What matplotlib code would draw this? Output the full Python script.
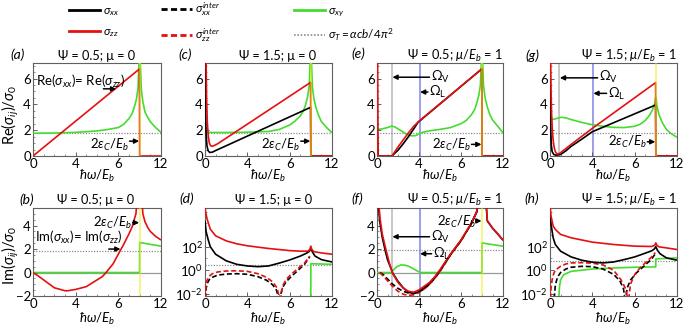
import numpy as np
import matplotlib
matplotlib.use("Agg")
import matplotlib.pyplot as plt
from matplotlib.lines import Line2D

plt.rcParams['font.family'] = ['Lato', 'DejaVu Sans']
plt.rcParams['mathtext.fontset'] = 'custom'
plt.rcParams['mathtext.rm'] = 'Lato'
plt.rcParams['mathtext.it'] = 'Lato:italic'
plt.rcParams['mathtext.bf'] = 'Lato:bold'
plt.rcParams['mathtext.fallback'] = 'stixsans'

# ---------------- data ----------------
X_TICKS = [0, 4, 8, 12]
X_TICKLABELS = ['0', '4', '6', '12']
EPS_C2 = 10.0          # 2 eps_C / E_b
OMEGA_V_05 = 1.42      # Omega_V, Psi = 0.5
OMEGA_V_15 = 0.88      # Omega_V, Psi = 1.5
OMEGA_L = 4.05
SIGMA_T_ROW1 = 1.75
SIGMA_T_B = 1.8
SIGMA_T_F = 1.9
SIGMA_T_D_LOG10 = 0.42
SIGMA_T_H_LOG10 = 0.75

# (a) Re, Psi=0.5, mu=0
A_RED_X = [0, 9.98, 10.0, 12]
A_RED_Y = [0, 6.74, 0, 0]
A_GREEN_X = [0, 2, 4, 6, 7, 8, 8.5, 9, 9.3, 9.5, 9.7, 9.85, 9.95, 10.05, 10.15, 10.3, 10.5, 10.75, 11, 11.5, 12]
A_GREEN_Y = [1.76, 1.78, 1.83, 1.94, 2.05, 2.2, 2.45, 2.9, 3.3, 3.8, 4.4, 5.3, 7.5, 7.5, 5.2, 4.2, 3.4, 3.0, 2.65, 2.2, 1.83]

# (c) Re, Psi=1.5, mu=0
C_RED_X = [0.1, 0.15, 0.22, 0.3, 0.4, 0.5, 0.65, 0.85, 1.2, 9.98, 10.0, 12]
C_RED_Y = [7.5, 4.5, 2.6, 1.6, 1.05, 0.82, 0.75, 0.8, 0.95, 5.7, 0, 0]
C_BLACK_X = [0.02, 0.05, 0.1, 0.18, 0.3, 0.45, 0.7, 1.0, 9.98, 10.0, 12]
C_BLACK_Y = [7.5, 4.0, 1.8, 0.8, 0.4, 0.27, 0.3, 0.42, 3.77, 0, 0]
C_GREEN_X = [0, 2, 4, 6, 7, 8, 8.5, 9, 9.3, 9.5, 9.7, 9.85, 9.95, 10.05, 10.15, 10.3, 10.5, 10.75, 11, 11.5, 12]
C_GREEN_Y = [1.82, 1.82, 1.84, 1.9, 2.05, 2.4, 2.7, 3.1, 3.5, 3.95, 4.6, 5.5, 7.5, 7.5, 5.3, 4.4, 3.7, 3.1, 2.66, 2.2, 1.8]

# (e) Re, Psi=0.5, mu/Eb=1
E_RED_X = [0.05, 0.08, 1.42, 2.0, 2.5, 3.0, 3.5, 4.0, 9.98, 10.0, 12]
E_RED_Y = [7.5, 0, 0, 0.7, 1.25, 1.8, 2.3, 2.7, 6.74, 0, 0]
E_BLACK_X = [0.02, 0.05, 0.1, 1.42, 2.0, 2.5, 3.0, 3.5, 3.9, 9.98, 10.0, 12]
E_BLACK_Y = [7.5, 2.0, 0, 0, 0.45, 0.95, 1.5, 2.1, 2.6, 6.74, 0, 0]
E_GREEN_X = [0, 0.5, 1.0, 1.4, 1.7, 2.2, 2.8, 3.3, 3.7, 4.2, 5, 6, 7, 8, 8.5, 9, 9.3, 9.5, 9.7, 9.85, 9.95, 10.05, 10.15, 10.3, 10.5, 10.75, 11, 11.5, 12]
E_GREEN_Y = [2.05, 2.1, 2.2, 2.32, 2.25, 2.0, 1.7, 1.56, 1.58, 1.8, 1.95, 2.06, 2.2, 2.5, 2.75, 3.2, 3.6, 4.1, 4.7, 5.5, 7.5, 7.5, 5.4, 4.5, 3.8, 3.2, 2.8, 2.3, 1.8]

# (g) Re, Psi=1.5, mu/Eb=1
G_RED_X = [0.05, 0.1, 0.15, 0.22, 0.3, 0.4, 0.5, 0.62, 0.75, 0.9, 1.1, 1.5, 2, 4, 9.98, 10.0, 12]
G_RED_Y = [7.5, 5.0, 3.3, 2.0, 1.2, 0.65, 0.35, 0.2, 0.16, 0.2, 0.32, 0.58, 0.9, 2.14, 5.68, 0, 0]
G_BLACK_X = [0.02, 0.05, 0.08, 0.12, 0.2, 0.35, 0.6, 1.0, 1.5, 2, 3, 4, 9.98, 10.0, 12]
G_BLACK_Y = [7.5, 3.5, 1.8, 0.9, 0.35, 0.12, 0.06, 0.12, 0.4, 0.75, 1.3, 1.88, 3.95, 0, 0]
G_GREEN_X = [0, 0.4, 0.8, 1.1, 1.5, 2, 3, 4, 5, 6, 7, 8, 8.5, 9, 9.4, 9.7, 9.9, 9.97, 10.03, 10.1, 10.3, 10.6, 11, 11.5, 12]
G_GREEN_Y = [2.8, 2.85, 2.95, 3.0, 2.95, 2.82, 2.6, 2.42, 2.3, 2.22, 2.2, 2.3, 2.45, 2.75, 3.15, 3.6, 4.1, 4.5, 4.5, 3.9, 3.2, 2.6, 2.05, 1.7, 1.45]

# (b) Im, Psi=0.5, mu=0
B_RED_X = [0, 0.5, 1, 2, 3, 3.2, 4, 5, 6, 6.5, 6.85, 7.5, 8, 8.5, 9, 9.3, 9.5, 9.65, 9.9, 10.1, 10.3, 10.5, 10.75, 11, 11.5, 12]
B_RED_Y = [0, -0.3, -0.63, -1.3, -1.55, -1.56, -1.44, -1.2, -0.63, -0.35, 0, 0.73, 1.57, 2.4, 3.3, 3.9, 4.55, 5.0, 8.0, 8.0, 5.0, 4.33, 3.85, 3.5, 3.08, 2.77]
B_GREEN_X = [0, 9.99, 10.0, 10.5, 11, 12]
B_GREEN_Y = [0, 0, 2.56, 2.48, 2.4, 2.25]

# (f) Im, Psi=0.5, mu/Eb=1
F_RED_X = [0.15, 0.2, 0.3, 0.5, 0.8, 1.2, 1.5, 2, 2.5, 3, 3.5, 4, 5, 5.5, 6, 7, 8, 9, 9.5, 9.7, 10.25, 10.5, 11, 11.5, 12]
F_RED_Y = [8, 5.6, 4.54, 3.3, 2.14, 0.73, -0.1, -0.85, -1.33, -1.6, -1.67, -1.48, -0.85, -0.37, 0.23, 1.57, 2.77, 4.23, 5.17, 8, 8, 4.44, 3.8, 3.3, 2.77]
F_BLACK_X = [0.1, 0.15, 0.25, 0.5, 0.8, 1.0, 1.5, 2, 2.5, 3, 3.5, 4, 4.5, 5, 5.5, 6, 7, 8, 9, 9.5, 9.7, 10.25, 10.5, 11, 11.5, 12]
F_BLACK_Y = [8, 5.6, 4.4, 3.0, 1.8, 1.1, -0.05, -0.75, -1.3, -1.68, -1.8, -1.62, -1.3, -0.9, -0.4, 0.2, 1.55, 2.75, 4.2, 5.15, 8, 8, 4.4, 3.78, 3.28, 2.75]
F_RED_DASH_X = [0.25, 0.6, 1.0, 1.5, 2.0, 2.5, 3.0, 3.5, 4.0, 4.5, 5.0, 5.5, 6.0, 7.0, 8.0, 9.0, 9.5, 9.65]
F_RED_DASH_Y = [0.0, -0.3, -0.7, -1.2, -1.6, -1.85, -1.95, -1.9, -1.7, -1.4, -1.0, -0.5, 0.1, 1.5, 2.7, 4.2, 5.2, 6.0]
F_BLACK_DASH_X = [0.3, 0.7, 1.0, 1.5, 2.0, 2.5, 3.0, 3.5, 4.0, 4.5, 5.0, 5.5, 6.0, 7.0, 8.0, 9.0, 9.5, 9.65]
F_BLACK_DASH_Y = [0.0, -0.25, -0.55, -1.0, -1.35, -1.6, -1.75, -1.78, -1.65, -1.4, -1.0, -0.5, 0.1, 1.5, 2.7, 4.2, 5.2, 6.0]
F_GREEN_X = [0, 1.35, 1.6, 1.9, 2.3, 2.7, 3.1, 3.5, 3.9, 4.15, 9.99, 10.0, 10.5, 11, 12]
F_GREEN_Y = [0, 0, 0.25, 0.5, 0.65, 0.62, 0.5, 0.3, 0.1, 0, 0, 2.52, 2.45, 2.38, 2.25]

# (d) Im, Psi=1.5, mu=0  (log10 of |value|)
D_RED_X = [0.0, 0.05, 0.2, 0.5, 1, 2, 3, 4, 6, 8, 9, 9.7, 9.9, 10.0, 10.1, 10.3, 11, 12]
D_RED_LOG10 = [5.6, 5.0, 4.36, 3.5, 2.93, 2.5, 2.25, 2.08, 1.85, 1.67, 1.62, 1.62, 1.75, 2.05, 1.75, 1.58, 1.47, 1.36]
D_BLACK_X = [0.0, 0.1, 0.3, 0.5, 1, 2, 3, 4, 5, 6, 7, 8, 9, 9.6, 9.85, 10.0, 10.15, 10.4, 11, 12]
D_BLACK_LOG10 = [4.2, 3.3, 2.6, 2.0, 1.36, 0.8, 0.5, 0.36, 0.3, 0.36, 0.6, 0.87, 1.2, 1.45, 1.6, 1.85, 1.55, 1.2, 0.9, 0.7]
D_RED_DASH_X = [0.03, 0.1, 0.2, 0.4, 0.7, 1.2, 2, 3, 4, 5, 5.8, 6.4, 6.8, 7.05, 7.15, 7.35, 7.7, 8.2, 8.8, 9.4, 9.9]
D_RED_DASH_LOG10 = [-2.4, -1.3, -0.85, -0.5, -0.3, -0.15, -0.07, -0.05, -0.1, -0.3, -0.6, -1.0, -1.5, -2.4, -2.4, -1.3, -0.75, -0.3, 0.15, 0.6, 1.2]
D_BLACK_DASH_X = [0.03, 0.1, 0.2, 0.4, 0.7, 1.2, 2, 3, 4, 5, 5.8, 6.4, 6.75, 6.98, 7.08, 7.3, 7.7, 8.2, 8.8, 9.4, 9.9]
D_BLACK_DASH_LOG10 = [-2.4, -1.6, -1.15, -0.8, -0.6, -0.42, -0.33, -0.3, -0.35, -0.55, -0.85, -1.25, -1.7, -2.4, -2.4, -1.5, -0.95, -0.5, 0.0, 0.5, 1.15]
D_GREEN_X = [0, 9.99, 10.0, 12]
D_GREEN_LOG10 = [-9, -9, 0.55, 0.5]   # -9 stands for zero (below the axis)

# (h) Im, Psi=1.5, mu/Eb=1  (log10 of |value|)
H_RED_X = [0.0, 0.1, 0.3, 0.5, 1, 2, 4, 6, 8, 9.6, 9.9, 10.0, 10.1, 10.3, 11, 12]
H_RED_LOG10 = [5.6, 4.6, 3.76, 3.48, 3.05, 2.76, 2.39, 2.19, 2.05, 2.02, 2.12, 2.33, 2.12, 1.99, 1.9, 1.76]
H_BLACK_X = [0.0, 0.1, 0.3, 0.5, 1, 2, 3, 4, 5, 6, 7, 8, 9, 9.6, 9.85, 10.0, 10.15, 10.4, 11, 12]
H_BLACK_LOG10 = [4.9, 3.9, 2.76, 2.19, 1.62, 1.13, 0.85, 0.68, 0.62, 0.7, 0.9, 1.13, 1.45, 1.65, 1.8, 2.0, 1.7, 1.4, 1.05, 0.85]
H_RED_DASH_X = [0.05, 0.1, 0.2, 0.35, 0.5, 1, 1.5, 2, 3, 4, 5, 6, 6.7, 7.1, 7.35, 7.45, 7.6, 8, 8.5, 9, 9.6, 9.95]
H_RED_DASH_LOG10 = [-2.4, -1.5, -0.82, -0.3, 0.0, 0.33, 0.53, 0.62, 0.64, 0.6, 0.45, 0.0, -0.8, -1.5, -2.4, -2.4, -1.2, -0.38, 0.19, 0.62, 1.13, 1.5]
H_BLACK_DASH_X = [0.4, 0.5, 0.7, 1, 1.5, 2, 3, 4, 5, 6, 6.6, 6.95, 7.05, 7.15, 7.3, 7.6, 8.2, 9, 9.6, 9.95]
H_BLACK_DASH_LOG10 = [-2.4, -1.3, -0.6, -0.2, 0.1, 0.25, 0.33, 0.3, 0.1, -0.35, -0.9, -1.6, -2.4, -2.4, -1.5, -0.85, -0.2, 0.45, 0.95, 1.4]
H_GREEN_X = [0.82, 0.9, 1.0, 1.3, 2, 3, 4, 6, 8, 9.99, 10.0, 12]
H_GREEN_LOG10 = [-2.5, -1.4, -0.82, -0.38, -0.1, 0.0, 0.1, 0.19, 0.25, 0.28, 0.96, 1.05]

# ---------------- style ----------------
RED = '#e51010'
BLACK = '#000000'
GREEN = '#45dc30'
YELLOW = '#ecec10'
GRAYV = '#bdbdbd'
BLUEV = '#8c8ce6'
DOTC = '#8c8c8c'
SPINE = '#606060'
LW = 1.2
DASH = (3, 1.6)

W, H = 685, 329
fig = plt.figure(figsize=(W / 100, H / 100), dpi=100)


def ax_at(l, t, r, b):
    return fig.add_axes([l / W, 1 - b / H, (r - l) / W, (b - t) / H])


def ftext(x, y, s, **kw):
    kw.setdefault('va', 'center')
    kw.setdefault('ha', 'center')
    return fig.text(x / W, 1 - y / H, s, **kw)


def style(ax, kind):
    for sp in ax.spines.values():
        sp.set_color(SPINE)
        sp.set_linewidth(0.8)
    ax.set_xlim(0, 12)
    ax.set_xticks(X_TICKS, X_TICKLABELS)
    ax.set_xticks(np.arange(0, 12.1, 1), minor=True)
    ax.tick_params(which='both', direction='in', colors=SPINE, labelcolor='black',
                   labelsize=9.5, pad=1.5, top=False, right=False)
    ax.tick_params(which='major', length=3, width=0.7)
    ax.tick_params(which='minor', length=1.5, width=0.5)
    if kind == 're':
        ax.set_ylim(0, 7.2)
        ax.set_yticks([0, 2, 4, 6])
        ax.set_yticks(np.arange(0, 7.2, 0.5), minor=True)
    elif kind == 'im':
        ax.set_ylim(-2, 5.5)
        ax.set_yticks([-2, 0, 2, 4])
        ax.set_yticks(np.arange(-2, 5.5, 0.5), minor=True)
    else:
        ax.set_yscale('log')
        ax.set_ylim(10 ** -2.2, 10 ** 5.3)
        ax.set_yticks([1e-2, 1e0, 1e2], [r'$10^{-2}$', r'$10^{0}$', r'$10^{2}$'])
        ax.set_yticks([1e-1, 1e1, 1e3, 1e4, 1e5], minor=True)
        ax.yaxis.set_minor_formatter(plt.NullFormatter())


def line(ax, x, y, color, ls='-', z=3, log=False):
    y = np.asarray(y, float)
    if log:
        y = 10.0 ** y
    kw = dict(color=color, lw=LW, zorder=z, solid_capstyle='butt')
    if ls == '--':
        kw['dashes'] = DASH
    ax.plot(x, y, **kw)


def arrow(ax, tail, tip):
    ax.annotate('', xy=tip, xytext=tail,
                arrowprops=dict(arrowstyle='-|>', color='black', lw=1.1,
                                mutation_scale=7, shrinkA=0, shrinkB=0), zorder=8)


def eps_label(ax, xt, yt, ya, fs=9.5):
    ax.text(xt, yt, r'$2\epsilon_C/E_b$', ha='right', va='center', fontsize=fs, zorder=8)
    arrow(ax, (xt + 0.05, ya), (EPS_C2 - 0.05, ya))


def eps_line(ax):
    ax.axvline(EPS_C2, color=YELLOW, lw=1.3, alpha=0.55, zorder=6)


def sigma_t(ax, val):
    ax.axhline(val, color=DOTC, lw=0.9, ls=(0, (1, 1.2)), zorder=1)


# axes boxes (pixels)
R1T, R1B = 63, 156
R2T, R2B = 208, 296
COLS = [(33, 161), (205, 332), (377, 503), (550, 677)]

axA = ax_at(COLS[0][0], R1T, COLS[0][1], R1B)
axC = ax_at(COLS[1][0], R1T, COLS[1][1], R1B)
axE = ax_at(COLS[2][0], R1T, COLS[2][1], R1B)
axG = ax_at(COLS[3][0], R1T, COLS[3][1], R1B)
axB = ax_at(COLS[0][0], R2T, COLS[0][1], R2B)
axD = ax_at(COLS[1][0], R2T, COLS[1][1], R2B)
axF = ax_at(COLS[2][0], R2T, COLS[2][1], R2B)
axH = ax_at(COLS[3][0], R2T, COLS[3][1], R2B)

for ax in (axA, axC, axE, axG):
    style(ax, 're')
for ax in (axB, axF):
    style(ax, 'im')
for ax in (axD, axH):
    style(ax, 'log')

OFS = 9.5   # Omega label size

# ---- (a)
sigma_t(axA, SIGMA_T_ROW1)
line(axA, A_GREEN_X, A_GREEN_Y, GREEN)
line(axA, A_RED_X, A_RED_Y, RED, z=4)
eps_line(axA)
axA.text(0.25, 5.8, r'Re($\sigma_{xx}$)= Re($\sigma_{zz}$)', fontsize=9.5, va='center', zorder=8)
arrow(axA, (6.6, 5.2), (7.8, 5.2))
eps_label(axA, 9.0, 0.85, 1.15)

# ---- (c)
sigma_t(axC, SIGMA_T_ROW1)
line(axC, C_GREEN_X, C_GREEN_Y, GREEN)
line(axC, C_BLACK_X, C_BLACK_Y, BLACK, z=4)
line(axC, C_RED_X, C_RED_Y, RED, z=5)
eps_line(axC)
eps_label(axC, 9.0, 0.85, 1.15)

# ---- (e)
axE.axvline(OMEGA_V_05, color=GRAYV, lw=1.2, zorder=1)
axE.axvline(OMEGA_L, color=BLUEV, lw=1.2, zorder=1)
sigma_t(axE, SIGMA_T_ROW1)
line(axE, E_GREEN_X, E_GREEN_Y, GREEN)
line(axE, E_BLACK_X, E_BLACK_Y, BLACK, z=4)
line(axE, E_RED_X, E_RED_Y, RED, z=5)
eps_line(axE)
axE.text(5.1, 6.15, r'$\Omega_{\rm V}$', fontsize=OFS, va='center', ha='left', zorder=8)
arrow(axE, (5.0, 6.1), (OMEGA_V_05 + 0.05, 6.1))
axE.text(4.95, 4.95, r'$\Omega_{\rm L}$', fontsize=OFS, va='center', ha='left', zorder=8)
arrow(axE, (4.85, 4.95), (OMEGA_L + 0.05, 4.95))
eps_label(axE, 8.95, 0.85, 0.9)

# ---- (g)
axG.axvline(OMEGA_V_15, color=GRAYV, lw=1.2, zorder=1)
axG.axvline(OMEGA_L, color=BLUEV, lw=1.2, zorder=1)
sigma_t(axG, SIGMA_T_ROW1)
line(axG, G_GREEN_X, G_GREEN_Y, GREEN)
line(axG, G_BLACK_X, G_BLACK_Y, BLACK, z=4)
line(axG, G_RED_X, G_RED_Y, RED, z=5)
eps_line(axG)
axG.text(4.6, 6.1, r'$\Omega_{\rm V}$', fontsize=OFS, va='center', ha='left', zorder=8)
arrow(axG, (4.5, 6.05), (OMEGA_V_15 + 0.05, 6.05))
axG.text(5.5, 4.8, r'$\Omega_{\rm L}$', fontsize=OFS, va='center', ha='left', zorder=8)
arrow(axG, (5.35, 4.85), (OMEGA_L + 0.05, 4.85))
eps_label(axG, 9.15, 1.05, 1.1)

# ---- (b)
axB.axhline(0, color='#9a9a9a', lw=0.9, zorder=1)
sigma_t(axB, SIGMA_T_B)
line(axB, B_GREEN_X, B_GREEN_Y, GREEN, z=3)
line(axB, B_RED_X, B_RED_Y, RED, z=4)
eps_line(axB)
axB.text(0.2, 2.95, r'Im($\sigma_{xx}$)= Im($\sigma_{zz}$)', fontsize=9.5, va='center', zorder=8)
arrow(axB, (7.1, 2.0), (8.2, 2.0))
eps_label(axB, 9.3, 4.2, 4.25)

# ---- (d)
sigma_t(axD, 10 ** SIGMA_T_D_LOG10)
line(axD, D_GREEN_X, D_GREEN_LOG10, GREEN, log=True, z=3)
line(axD, D_BLACK_DASH_X, D_BLACK_DASH_LOG10, BLACK, ls='--', log=True, z=4)
line(axD, D_RED_DASH_X, D_RED_DASH_LOG10, RED, ls='--', log=True, z=4)
line(axD, D_BLACK_X, D_BLACK_LOG10, BLACK, log=True, z=5)
line(axD, D_RED_X, D_RED_LOG10, RED, log=True, z=5)

# ---- (f)
axF.axvline(OMEGA_V_05, color=GRAYV, lw=1.2, zorder=1)
axF.axvline(OMEGA_L, color=BLUEV, lw=1.2, zorder=1)
axF.axhline(0, color='#9a9a9a', lw=0.9, zorder=1)
sigma_t(axF, SIGMA_T_F)
line(axF, F_GREEN_X, F_GREEN_Y, GREEN, z=3)
line(axF, F_BLACK_DASH_X, F_BLACK_DASH_Y, BLACK, ls='--', z=4)
line(axF, F_RED_DASH_X, F_RED_DASH_Y, RED, ls='--', z=4)
line(axF, F_BLACK_X, F_BLACK_Y, BLACK, z=5)
line(axF, F_RED_X, F_RED_Y, RED, z=5)
eps_line(axF)
axF.text(5.1, 3.0, r'$\Omega_{\rm V}$', fontsize=OFS, va='center', ha='left', zorder=8)
arrow(axF, (5.0, 3.05), (OMEGA_V_05 + 0.05, 3.05))
axF.text(5.3, 1.6, r'$\Omega_{\rm L}$', fontsize=OFS, va='center', ha='left', zorder=8)
arrow(axF, (5.2, 1.6), (OMEGA_L + 0.05, 1.6))
eps_label(axF, 9.45, 4.35, 4.4)

# ---- (h)
sigma_t(axH, 10 ** SIGMA_T_H_LOG10)
line(axH, H_GREEN_X, H_GREEN_LOG10, GREEN, log=True, z=3)
line(axH, H_BLACK_DASH_X, H_BLACK_DASH_LOG10, BLACK, ls='--', log=True, z=4)
line(axH, H_RED_DASH_X, H_RED_DASH_LOG10, RED, ls='--', log=True, z=4)
line(axH, H_BLACK_X, H_BLACK_LOG10, BLACK, log=True, z=5)
line(axH, H_RED_X, H_RED_LOG10, RED, log=True, z=5)

# ---------------- titles / labels ----------------
TFS = 9.2
ftext(97, 56, 'Ψ = 0.5; μ = 0', fontsize=TFS)
ftext(278, 56, 'Ψ = 1.5; μ = 0', fontsize=TFS)
ftext(503, 56, r'Ψ = 0.5; $\mu/E_b$ = 1', fontsize=TFS, ha='right')
ftext(677, 56, r'Ψ = 1.5; $\mu/E_b$ = 1', fontsize=TFS, ha='right')
ftext(96, 200, 'Ψ = 0.5; μ = 0', fontsize=TFS)
ftext(274, 200, 'Ψ = 1.5; μ = 0', fontsize=TFS)
ftext(503, 200, r'Ψ = 0.5; $\mu/E_b$ = 1', fontsize=TFS, ha='right')
ftext(677, 200, r'Ψ = 1.5; $\mu/E_b$ = 1', fontsize=TFS, ha='right')

LFS = 10
for (x, y, s) in [(18, 55, '(a)'), (185, 55, '(c)'), (358, 54, '(e)'), (532, 56, '(g)'),
                  (27, 200, '(b)'), (187, 199, '(d)'), (357, 199, '(f)'), (532, 199, '(h)')]:
    ftext(x, y, s, fontsize=LFS, style='italic')

for (l, r) in COLS:
    ftext((l + r) / 2, 176, r'$\hbar\omega/E_b$', fontsize=9.5)
    ftext((l + r) / 2, 319, r'$\hbar\omega/E_b$', fontsize=9.5)

ftext(10, 115, r'Re($\sigma_{ij}$)/$\sigma_0$', fontsize=10.5, rotation=90)
ftext(10, 255, r'Im($\sigma_{ij}$)/$\sigma_0$', fontsize=10.5, rotation=90)

# ---------------- legend ----------------
h1 = [Line2D([], [], color=BLACK, lw=2), Line2D([], [], color=RED, lw=2)]
h2 = [Line2D([], [], color=BLACK, lw=2, dashes=(2.2, 1.2)), Line2D([], [], color=RED, lw=2, dashes=(2.2, 1.2))]
h3 = [Line2D([], [], color=GREEN, lw=2), Line2D([], [], color=DOTC, lw=1.2, ls=(0, (1, 1)))]
leg_kw = dict(loc='upper left', frameon=False, fontsize=8.5, handlelength=2.6,
              handletextpad=0.3, borderpad=0, borderaxespad=0, labelspacing=0.7)
fig.legend(h1, [r'$\sigma_{xx}$', r'$\sigma_{zz}$'], bbox_to_anchor=(69 / W, 1 - 5 / H), **leg_kw)
fig.legend(h2, [r'$\sigma_{xx}^{inter}$', r'$\sigma_{zz}^{inter}$'], bbox_to_anchor=(161 / W, 1 - 1 / H), **leg_kw)
fig.legend(h3, [r'$\sigma_{xy}$', r'$\sigma_T = \alpha cb/4\pi^2$'], bbox_to_anchor=(294 / W, 1 - 5 / H), **leg_kw)

fig.savefig('out.png', dpi=100)
